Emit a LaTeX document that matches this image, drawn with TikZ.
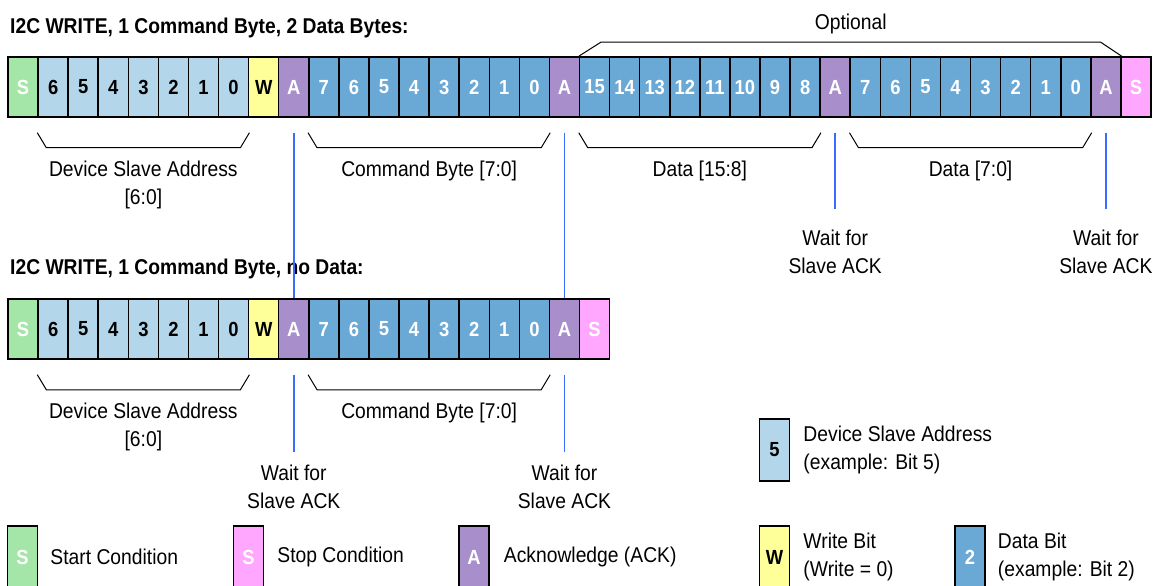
\documentclass[tikz,border=0pt]{standalone}
\usepackage{fontspec}
\setmainfont{Liberation Sans}[FakeStretch=0.9]
\usetikzlibrary{calc,positioning}

\definecolor{startgreen}{RGB}{163,230,168}
\definecolor{addrblue}{RGB}{180,214,234}
\definecolor{wryellow}{RGB}{255,255,153}
\definecolor{ackpurple}{RGB}{168,143,203}
\definecolor{datablue}{RGB}{106,168,214}
\definecolor{stoppink}{RGB}{255,166,255}
\definecolor{waitblue}{RGB}{58,107,255}

\tikzset{
	bit/.style={draw=black, line width=1.5bp, minimum width=30.08bp, minimum height=60bp, inner sep=0pt, font=\fontsize{20.5}{20.5}\selectfont\bfseries, text=white},
	startbit/.style={bit, fill=startgreen},
	addrbit/.style={bit, fill=addrblue, text=black},
	wrbit/.style={bit, fill=wryellow, text=black},
	ackbit/.style={bit, fill=ackpurple},
	databit/.style={bit, fill=datablue},
	stopbit/.style={bit, fill=stoppink},
	lbl/.style={inner sep=0pt, align=center, font=\fontsize{21.5}{28}\selectfont},
	ttl/.style={inner sep=0pt, anchor=base west, font=\fontsize{21.5}{28}\selectfont\bfseries},
	ackline/.style={draw=waitblue, line width=1.5bp},
	brk/.style={draw=black, line width=1bp},
	lgbit/.style={minimum height=62bp}
}

\begin{document}
\begin{tikzpicture}[x=1bp,y=-1bp]
				\path[use as bounding box, fill=white] (0,0) rectangle (1155,586);
				
				%titles
				\node[ttl] (t1) at (10,33.3) {I2C WRITE, 1 Command Byte, 2 Data Bytes:};
				\node[ttl] (t2) at (10,275) {I2C WRITE, 1 Command Byte, no Data:};
				
				%row 1
				\foreach \t/\s [count=\i from 0] in {S/startbit,6/addrbit,5/addrbit,4/addrbit,3/addrbit,2/addrbit,1/addrbit,0/addrbit,W/wrbit,A/ackbit,
					7/databit,6/databit,5/databit,4/databit,3/databit,2/databit,1/databit,0/databit,A/ackbit,
					15/databit,14/databit,13/databit,12/databit,11/databit,10/databit,9/databit,8/databit,A/ackbit,
					7/databit,6/databit,5/databit,4/databit,3/databit,2/databit,1/databit,0/databit,A/ackbit,S/stopbit}
					\node[style=\s] (ra\i) at ({8+(\i+0.5)*30.08},87) {\t};
				
				%row 2
				\foreach \t/\s [count=\i from 0] in {S/startbit,6/addrbit,5/addrbit,4/addrbit,3/addrbit,2/addrbit,1/addrbit,0/addrbit,W/wrbit,A/ackbit,
					7/databit,6/databit,5/databit,4/databit,3/databit,2/databit,1/databit,0/databit,A/ackbit,S/stopbit}
					\node[style=\s] (rb\i) at ({8+(\i+0.5)*30.08},329) {\t};
				
				%braces under the bytes
				\foreach \a/\b in {ra1/ra7, ra10/ra17, ra19/ra26, ra28/ra35, rb1/rb7, rb10/rb17}
					\draw[brk] ($(\a.south west)+(0,15)$) -- ($(\a.south west)+(9,30)$) -- ($(\b.south east)+(-9,30)$) -- ($(\b.south east)+(0,15)$);
				
				\node[lbl, anchor=north] (dsa) at ($(ra1.south west)!0.5!(ra7.south east)+(0,43)$) {Device Slave Address\\{[6:0]}};
				\node[lbl, anchor=north] (cmda) at ($(ra10.south west)!0.5!(ra17.south east)+(0,43)$) {Command Byte [7:0]};
				\node[lbl, anchor=north] (dhi) at ($(ra19.south west)!0.5!(ra26.south east)+(0,43)$) {Data [15:8]};
				\node[lbl, anchor=north] (dlo) at ($(ra28.south west)!0.5!(ra35.south east)+(0,43)$) {Data [7:0]};
				\node[lbl, anchor=north] (dsb) at ($(rb1.south west)!0.5!(rb7.south east)+(0,43)$) {Device Slave Address\\{[6:0]}};
				\node[lbl, anchor=north] (cmdb) at ($(rb10.south west)!0.5!(rb17.south east)+(0,43)$) {Command Byte [7:0]};
				
				%optional bracket
				\coordinate (o1) at ($(ra19.north west)+(22,-14)$);
				\coordinate (o2) at ($(ra36.north east)+(-21,-14)$);
				\draw[brk] (ra19.north west) -- (o1) -- (o2) -- (ra36.north east);
				\node[lbl, anchor=base] (opt) at ($(o1)!0.5!(o2)+(0,-13)$) {Optional};
				
				%wait for ack
				\coordinate (wa9) at ($(ra9.south)+(0,15)$);
				\coordinate (wa18) at ($(ra18.south)+(0,15)$);
				\coordinate (wa27) at ($(ra27.south)+(0,15)$);
				\coordinate (wa36) at ($(ra36.south)+(0,15)$);
				\draw[ackline] (wa9) -- (rb9.north);
				\draw[ackline] (wa18) -- (rb18.north);
				\draw[ackline] (wa27) -- ++(0,76) coordinate (we27);
				\draw[ackline] (wa36) -- ++(0,76) coordinate (we36);
				\node[lbl, anchor=north] (wt27) at ($(we27)+(0,21)$) {Wait for\\Slave ACK};
				\node[lbl, anchor=north] (wt36) at ($(we36)+(0,21)$) {Wait for\\Slave ACK};
				
				\coordinate (wb9) at ($(rb9.south)+(0,15)$);
				\coordinate (wb18) at ($(rb18.south)+(0,15)$);
				\draw[ackline] (wb9) -- ++(0,77) coordinate (ve9);
				\draw[ackline] (wb18) -- ++(0,77) coordinate (ve18);
				\node[lbl, anchor=north] (wt9) at ($(ve9)+(0,13)$) {Wait for\\Slave ACK};
				\node[lbl, anchor=north] (wt18) at ($(ve18)+(0,13)$) {Wait for\\Slave ACK};
				
				%legend
				\node[startbit, lgbit] (lgS) at (22.5,557) {S};
				\node[lbl, right=12bp of lgS] (lgStxt) {Start Condition};
				\node[stopbit, lgbit] (lgP) at (248.5,557) {S};
				\node[lbl, right=13bp of lgP] (lgPtxt) {Stop Condition};
				\node[ackbit, lgbit] (lgA) at (474,557) {A};
				\node[lbl, right=14bp of lgA] (lgAtxt) {Acknowledge (ACK)};
				\node[addrbit, lgbit] (lgD) at (774.5,450) {5};
				\node[lbl, align=left, right=13bp of lgD] (lgDtxt) {Device Slave Address\\(example: Bit 5)};
				\node[wrbit, lgbit] (lgW) at (774.5,557) {W};
				\node[lbl, align=left, right=13bp of lgW] (lgWtxt) {Write Bit\\(Write = 0)};
				\node[databit, lgbit] (lgB) at (970,557) {2};
				\node[lbl, align=left, right=12bp of lgB] (lgBtxt) {Data Bit\\(example: Bit 2)};
				
			\end{tikzpicture}
\end{document}
